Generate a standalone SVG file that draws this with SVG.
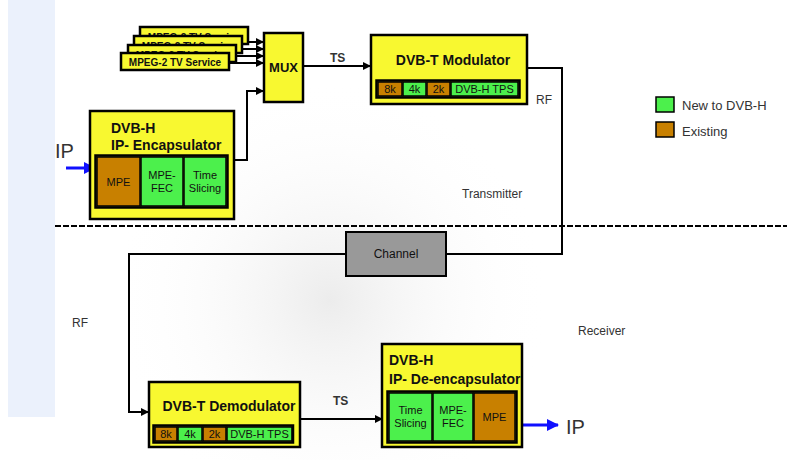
<svg xmlns="http://www.w3.org/2000/svg" width="787" height="460" viewBox="0 0 787 460">
<defs>
<style>
.box{fill:#f8f830;stroke:#000;stroke-width:2.5}
.row{fill:none;stroke:#000;stroke-width:2.5}
.g{fill:#4cf04c;stroke:#000;stroke-width:1.5}
.b{fill:#c88000;stroke:#000;stroke-width:1.5}
.t{font-family:"Liberation Sans Narrow","Liberation Sans",Arial,sans-serif;font-weight:bold;fill:#111}
.n{font-family:"Liberation Sans Narrow","Liberation Sans",Arial,sans-serif;fill:#111}
.lab{font-family:"Liberation Sans",Arial,sans-serif;fill:#333}
.ln{fill:none;stroke:#000;stroke-width:2}
.bl{fill:none;stroke:#1010ff;stroke-width:3}
</style>
<marker id="ah" markerWidth="8" markerHeight="8" refX="7" refY="4" orient="auto" markerUnits="userSpaceOnUse">
<path d="M0,0 L8,4 L0,8 z" fill="#000"/>
</marker>
<marker id="ahb" markerWidth="12" markerHeight="12" refX="11" refY="6" orient="auto" markerUnits="userSpaceOnUse">
<path d="M0,0 L12,6 L0,12 z" fill="#1010ff"/>
</marker>
<radialGradient id="bg" cx="330" cy="300" r="220" gradientUnits="userSpaceOnUse">
<stop offset="0" stop-color="#ececec"/>
<stop offset="1" stop-color="#ffffff" stop-opacity="0"/>
</radialGradient>
</defs>
<rect width="787" height="460" fill="#fff"/>
<rect x="55" y="20" width="600" height="440" fill="url(#bg)"/>
<rect x="8" y="0" width="47" height="417" fill="#ebf1fc"/>

<g id="connectors">
<path class="ln" d="M229,63 H263" marker-end="url(#ah)"/>
<path class="ln" d="M235,56 H263" marker-end="url(#ah)"/>
<path class="ln" d="M242,49 H263" marker-end="url(#ah)"/>
<path class="ln" d="M248,42 H263" marker-end="url(#ah)"/>
<path class="ln" d="M234,160 H247 V91 H263" marker-end="url(#ah)"/>
<path class="ln" d="M303,66 H370" marker-end="url(#ah)"/>
<path class="ln" d="M527,68 H562 V254 H446"/>
<path class="ln" d="M346,254 H129 V412 H148" marker-end="url(#ah)"/>
<path class="ln" d="M300,419 H382" marker-end="url(#ah)"/>
<path class="bl" d="M66,168 H95" marker-end="url(#ahb)"/>
<path class="bl" d="M521,425 H558" marker-end="url(#ahb)"/>
<line x1="55" y1="226" x2="787" y2="226" stroke="#000" stroke-width="2" stroke-dasharray="6,2"/>
<text class="lab" x="330" y="62" font-size="12" font-weight="bold" fill="#222">TS</text>
<text class="lab" x="333" y="405" font-size="12" font-weight="bold" fill="#222">TS</text>
<text class="lab" x="536" y="104" font-size="12">RF</text>
<text class="lab" x="72" y="327" font-size="12">RF</text>
<text class="lab" x="462" y="198" font-size="12">Transmitter</text>
<text class="lab" x="578" y="335" font-size="12">Receiver</text>
<text class="lab" x="55" y="158" font-size="20" fill="#222">IP</text>
<text class="lab" x="566" y="434" font-size="20" fill="#222">IP</text>
</g>

<g id="services">
<rect class="box" x="140" y="27" width="108" height="17" stroke-width="2"/>
<text class="t" x="194" y="41" font-size="10" text-anchor="middle">MPEG-2 TV Service</text>
<rect class="box" x="134" y="36" width="108" height="17" stroke-width="2"/>
<text class="t" x="188" y="50" font-size="10" text-anchor="middle">MPEG-2 TV Service</text>
<rect class="box" x="128" y="45" width="108" height="17" stroke-width="2"/>
<text class="t" x="182" y="59" font-size="10" text-anchor="middle">MPEG-2 TV Service</text>
<rect class="box" x="121" y="53" width="108" height="17" stroke-width="2"/>
<text class="t" x="175" y="66" font-size="10" text-anchor="middle">MPEG-2 TV Service</text>
</g>

<g id="mux">
<rect class="box" x="264" y="33" width="39" height="69"/>
<text class="t" x="283.5" y="72" font-size="13" text-anchor="middle">MUX</text>
</g>

<g id="modulator">
<rect class="box" x="371" y="35" width="156" height="69"/>
<text class="t" x="453" y="65" font-size="14" text-anchor="middle">DVB-T Modulator</text>
<rect class="b" x="378" y="82" width="24" height="14"/>
<rect class="g" x="403" y="82" width="23" height="14"/>
<rect class="b" x="427" y="82" width="23" height="14"/>
<rect class="g" x="451" y="82" width="67" height="14"/>
<rect class="row" x="376.5" y="80.5" width="143" height="17"/>
<g class="n" font-size="11" text-anchor="middle">
<text x="390" y="93">8k</text><text x="414.5" y="93">4k</text><text x="438.5" y="93">2k</text><text x="484.5" y="93">DVB-H TPS</text>
</g>
</g>

<g id="encapsulator">
<rect class="box" x="90" y="111" width="144" height="108"/>
<text class="t" x="111" y="133" font-size="14">DVB-H</text>
<text class="t" x="111" y="150" font-size="14">IP- Encapsulator</text>
<rect class="b" x="97" y="157" width="43" height="49"/>
<rect class="g" x="141" y="157" width="42" height="49"/>
<rect class="g" x="184" y="157" width="42" height="49"/>
<rect class="row" x="95.5" y="155.5" width="132" height="52"/>
<g class="n" font-size="11" text-anchor="middle">
<text x="118.5" y="186">MPE</text>
<text x="162" y="179">MPE-</text><text x="162" y="192">FEC</text>
<text x="205" y="179">Time</text><text x="205" y="192">Slicing</text>
</g>
</g>

<g id="channel">
<rect x="346" y="232" width="100" height="44" fill="#999" stroke="#000" stroke-width="2"/>
<text class="n" x="396" y="258" font-size="12" text-anchor="middle" fill="#222">Channel</text>
</g>

<g id="demodulator">
<rect class="box" x="149" y="382" width="151" height="65"/>
<text class="t" x="229" y="411" font-size="14" text-anchor="middle">DVB-T Demodulator</text>
<rect class="b" x="155" y="427" width="22" height="14"/>
<rect class="g" x="178" y="427" width="24" height="14"/>
<rect class="b" x="203" y="427" width="23" height="14"/>
<rect class="g" x="227" y="427" width="65" height="14"/>
<rect class="row" x="153.5" y="425.5" width="139.5" height="17"/>
<g class="n" font-size="11" text-anchor="middle">
<text x="166" y="438">8k</text><text x="190" y="438">4k</text><text x="214.5" y="438">2k</text><text x="259.5" y="438">DVB-H TPS</text>
</g>
</g>

<g id="deencapsulator">
<rect class="box" x="382" y="344" width="140" height="103"/>
<text class="t" x="389" y="365" font-size="14">DVB-H</text>
<text class="t" x="389" y="384" font-size="14">IP- De-encapsulator</text>
<rect class="g" x="389" y="393" width="43" height="48"/>
<rect class="g" x="433" y="393" width="40" height="48"/>
<rect class="b" x="474" y="393" width="41" height="48"/>
<rect class="row" x="387.5" y="391.5" width="129" height="51"/>
<g class="n" font-size="11" text-anchor="middle">
<text x="410.5" y="414">Time</text><text x="410.5" y="427">Slicing</text>
<text x="453" y="414">MPE-</text><text x="453" y="427">FEC</text>
<text x="494.5" y="421">MPE</text>
</g>
</g>

<g id="legend">
<rect class="g" x="656" y="97" width="18" height="15" stroke-width="2"/>
<text class="lab" x="682" y="110" font-size="13">New to DVB-H</text>
<rect class="b" x="656" y="122" width="18" height="15" stroke-width="2"/>
<text class="lab" x="682" y="136" font-size="13">Existing</text>
</g>
</svg>
